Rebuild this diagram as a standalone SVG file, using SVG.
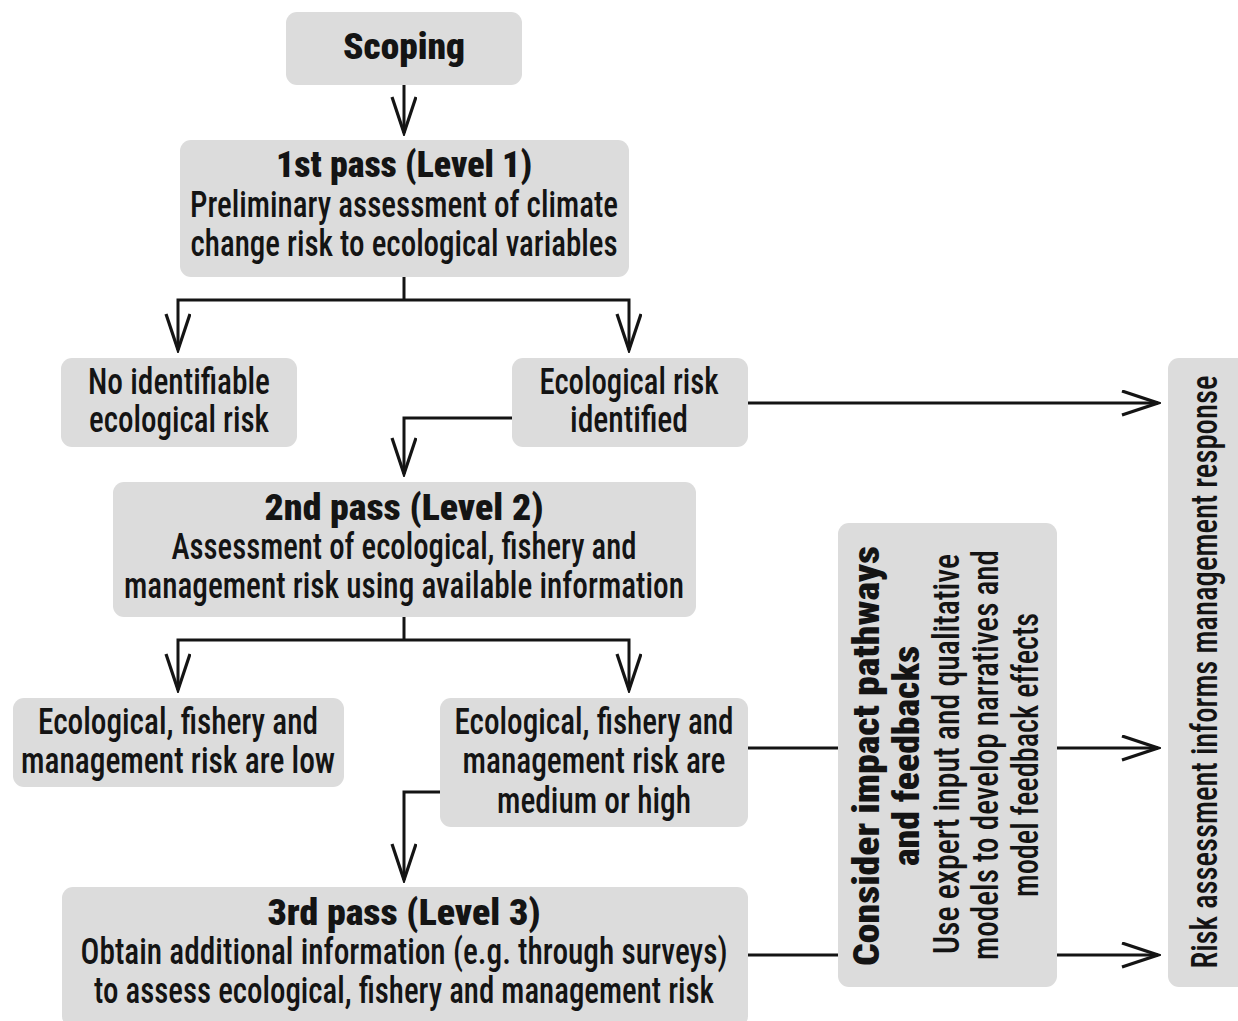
<svg xmlns="http://www.w3.org/2000/svg" width="1238" height="1021" viewBox="0 0 1238 1021">
<style>
.box{fill:#dcdcdc;}
text{font-family:"Roboto Condensed","Liberation Sans Narrow","DejaVu Sans Condensed",Roboto,sans-serif;fill:#141414;text-anchor:middle;}
.t{font-size:36px;font-weight:500;}
.h{font-size:36px;font-weight:900;}
.c{fill:none;stroke:#141414;stroke-width:3;}
</style>
<defs>
<marker id="arr" markerUnits="userSpaceOnUse" markerWidth="40" markerHeight="30" viewBox="0 0 40 30" refX="37" refY="13" orient="auto">
<path d="M1,1 L37,13 L1,25" fill="none" stroke="#141414" stroke-width="3.2"/>
</marker>
</defs>
<rect width="1238" height="1021" fill="#ffffff"/>
<g id="connectors">
<path class="c" d="M404,85 V133" marker-end="url(#arr)"/>
<path class="c" d="M404,277 V300"/>
<path class="c" d="M404,300 H178 V350" marker-end="url(#arr)"/>
<path class="c" d="M404,300 H629 V350" marker-end="url(#arr)"/>
<path class="c" d="M747,403 H1158" marker-end="url(#arr)"/>
<path class="c" d="M512,418 H404 V474" marker-end="url(#arr)"/>
<path class="c" d="M404,617 V640"/>
<path class="c" d="M404,640 H178 V690" marker-end="url(#arr)"/>
<path class="c" d="M404,640 H629 V690" marker-end="url(#arr)"/>
<path class="c" d="M747,748 H838"/>
<path class="c" d="M1057,748 H1158" marker-end="url(#arr)"/>
<path class="c" d="M440,792 H404 V880" marker-end="url(#arr)"/>
<path class="c" d="M747,955 H838"/>
<path class="c" d="M1057,955 H1158" marker-end="url(#arr)"/>
</g>
<g id="scoping">
<rect class="box" x="286" y="12" width="236" height="73" rx="11"/>
<text class="h" x="404" y="59" textLength="122" lengthAdjust="spacingAndGlyphs">Scoping</text>
</g>
<g id="pass1">
<rect class="box" x="180" y="140" width="449" height="137" rx="11"/>
<text class="h" x="404" y="177" textLength="256" lengthAdjust="spacingAndGlyphs">1st pass (Level 1)</text>
<text class="t" x="404" y="217" textLength="428" lengthAdjust="spacingAndGlyphs">Preliminary assessment of climate</text>
<text class="t" x="404" y="256" textLength="427" lengthAdjust="spacingAndGlyphs">change risk to ecological variables</text>
</g>
<g id="no-risk">
<rect class="box" x="61" y="358" width="236" height="89" rx="11"/>
<text class="t" x="179" y="394" textLength="182" lengthAdjust="spacingAndGlyphs">No identifiable</text>
<text class="t" x="179" y="432" textLength="180" lengthAdjust="spacingAndGlyphs">ecological risk</text>
</g>
<g id="risk-identified">
<rect class="box" x="512" y="358" width="236" height="89" rx="11"/>
<text class="t" x="629" y="394" textLength="179" lengthAdjust="spacingAndGlyphs">Ecological risk</text>
<text class="t" x="629" y="432" textLength="118" lengthAdjust="spacingAndGlyphs">identified</text>
</g>
<g id="pass2">
<rect class="box" x="113" y="482" width="583" height="135" rx="11"/>
<text class="h" x="404" y="520" textLength="279" lengthAdjust="spacingAndGlyphs">2nd pass (Level 2)</text>
<text class="t" x="404" y="559" textLength="465" lengthAdjust="spacingAndGlyphs">Assessment of ecological, fishery and</text>
<text class="t" x="404" y="598" textLength="560" lengthAdjust="spacingAndGlyphs">management risk using available information</text>
</g>
<g id="low">
<rect class="box" x="13" y="698" width="331" height="89" rx="11"/>
<text class="t" x="178" y="734" textLength="280" lengthAdjust="spacingAndGlyphs">Ecological, fishery and</text>
<text class="t" x="178" y="773" textLength="314" lengthAdjust="spacingAndGlyphs">management risk are low</text>
</g>
<g id="medium-high">
<rect class="box" x="440" y="698" width="308" height="129" rx="11"/>
<text class="t" x="594" y="734" textLength="279" lengthAdjust="spacingAndGlyphs">Ecological, fishery and</text>
<text class="t" x="594" y="773" textLength="263" lengthAdjust="spacingAndGlyphs">management risk are</text>
<text class="t" x="594" y="813" textLength="194" lengthAdjust="spacingAndGlyphs">medium or high</text>
</g>
<g id="pass3">
<rect class="box" x="62" y="887" width="686" height="140" rx="11"/>
<text class="h" x="404" y="925" textLength="273" lengthAdjust="spacingAndGlyphs">3rd pass (Level 3)</text>
<text class="t" x="404" y="964" textLength="647" lengthAdjust="spacingAndGlyphs">Obtain additional information (e.g. through surveys)</text>
<text class="t" x="404" y="1003" textLength="620" lengthAdjust="spacingAndGlyphs">to assess ecological, fishery and management risk</text>
</g>
<g id="feedbacks">
<rect class="box" x="838" y="523" width="219" height="464" rx="11"/>
<text class="h" transform="translate(879,756) rotate(-90)" textLength="420" lengthAdjust="spacingAndGlyphs">Consider impact pathways</text>
<text class="h" transform="translate(919,756) rotate(-90)" textLength="220" lengthAdjust="spacingAndGlyphs">and feedbacks</text>
<text class="t" transform="translate(959,754) rotate(-90)" textLength="400" lengthAdjust="spacingAndGlyphs">Use expert input and qualitative</text>
<text class="t" transform="translate(998,755) rotate(-90)" textLength="410" lengthAdjust="spacingAndGlyphs">models to develop narratives and</text>
<text class="t" transform="translate(1038,755) rotate(-90)" textLength="284" lengthAdjust="spacingAndGlyphs">model feedback effects</text>
</g>
<g id="management-response">
<rect class="box" x="1168" y="358" width="85" height="629" rx="11"/>
<text class="t" transform="translate(1217,672) rotate(-90)" textLength="593" lengthAdjust="spacingAndGlyphs">Risk assessment informs management response</text>
</g>
</svg>
